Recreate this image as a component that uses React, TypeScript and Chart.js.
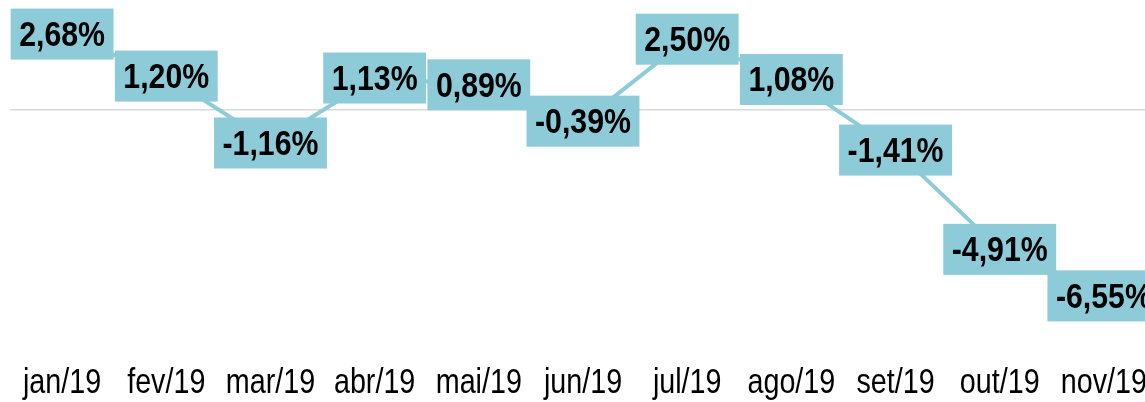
import React, { useEffect, useRef } from "react";
import { Chart, registerables } from "chart.js";

Chart.register(...registerables);

const categories = ["jan/19", "fev/19", "mar/19", "abr/19", "mai/19", "jun/19", "jul/19", "ago/19", "set/19", "out/19", "nov/19"];
const values = [2.68, 1.2, -1.16, 1.13, 0.89, -0.39, 2.5, 1.08, -1.41, -4.91, -6.55];
const valueLabels = ["2,68%", "1,20%", "-1,16%", "1,13%", "0,89%", "-0,39%", "2,50%", "1,08%", "-1,41%", "-4,91%", "-6,55%"];

const TEAL = "#8dcbd8";
const FONT = "'Liberation Sans', Arial, sans-serif";
const NARROW_TICK = 0.82;
const NARROW_LABEL = 0.865;

function drawNarrow(ctx: CanvasRenderingContext2D, text: string, x: number, y: number, k: number) {
  ctx.save();
  ctx.translate(x, y);
  ctx.scale(k, 1);
  ctx.fillText(text, 0, 0);
  ctx.restore();
}

const narrowText = {
  id: "narrowText",
  afterDraw(chart: any) {
    const ctx: CanvasRenderingContext2D = chart.ctx;
    const xScale = chart.scales.x;
    ctx.save();
    // category tick labels (positions from the x scale)
    ctx.font = `35px ${FONT}`;
    ctx.fillStyle = "#000";
    ctx.textAlign = "center";
    ctx.textBaseline = "alphabetic";
    xScale.ticks.forEach((_t: any, i: number) => {
      const label = String(chart.data.labels[i]);
      drawNarrow(ctx, label, xScale.getPixelForTick(i), 393, NARROW_TICK);
    });
    // value labels in boxes
    const meta = chart.getDatasetMeta(0);
    ctx.font = `bold 35px ${FONT}`;
    ctx.textBaseline = "middle";
    meta.data.forEach((pt: any, i: number) => {
      const text = valueLabels[i];
      const w = ctx.measureText(text).width * NARROW_LABEL + 17;
      const h = 51;
      ctx.fillStyle = TEAL;
      ctx.fillRect(pt.x - w / 2, pt.y - h / 2, w, h);
      ctx.fillStyle = "#000";
      drawNarrow(ctx, text, pt.x, pt.y + 2, NARROW_LABEL);
    });
    ctx.restore();
  },
};

export default function App() {
  const ref = useRef<HTMLCanvasElement | null>(null);
  useEffect(() => {
    document.body.style.margin = "0";
    const chart = new Chart(ref.current!, {
      type: "line",
      data: {
        labels: categories,
        datasets: [
          {
            data: values,
            borderColor: TEAL,
            borderWidth: 4,
            pointRadius: 0,
            tension: 0,
          },
        ],
      },
      options: {
        responsive: false,
        animation: false,
        layout: { padding: { left: 10, top: 25, right: 4, bottom: 0 } },
        plugins: { legend: { display: false }, tooltip: { enabled: false } },
        scales: {
          x: {
            offset: true,
            grid: { display: false, drawTicks: false },
            border: { display: false },
            ticks: {
              color: "rgba(0,0,0,0)",
              padding: 0,
              maxRotation: 0,
              autoSkip: false,
              font: { family: FONT, size: 12 },
            },
            afterFit: (s: any) => {
              s.paddingLeft = 0;
              s.paddingRight = 0;
              s.height = 65;
            },
          },
          y: {
            min: -8,
            max: 3,
            grid: {
              drawTicks: false,
              color: (c: any) => (c.tick && c.tick.value === 0 ? "#d9d9d9" : "rgba(0,0,0,0)"),
              lineWidth: 1.5,
            },
            border: { display: false },
            ticks: { display: false, stepSize: 1 },
            afterFit: (s: any) => {
              s.width = 0;
            },
          },
        },
      },
      plugins: [narrowText],
    });
    return () => chart.destroy();
  }, []);
  return (
    <div style={{ width: 1145, height: 402, overflow: "hidden", background: "#fff" }}>
      <canvas ref={ref} width={1160} height={402} style={{ display: "block" }} />
    </div>
  );
}
